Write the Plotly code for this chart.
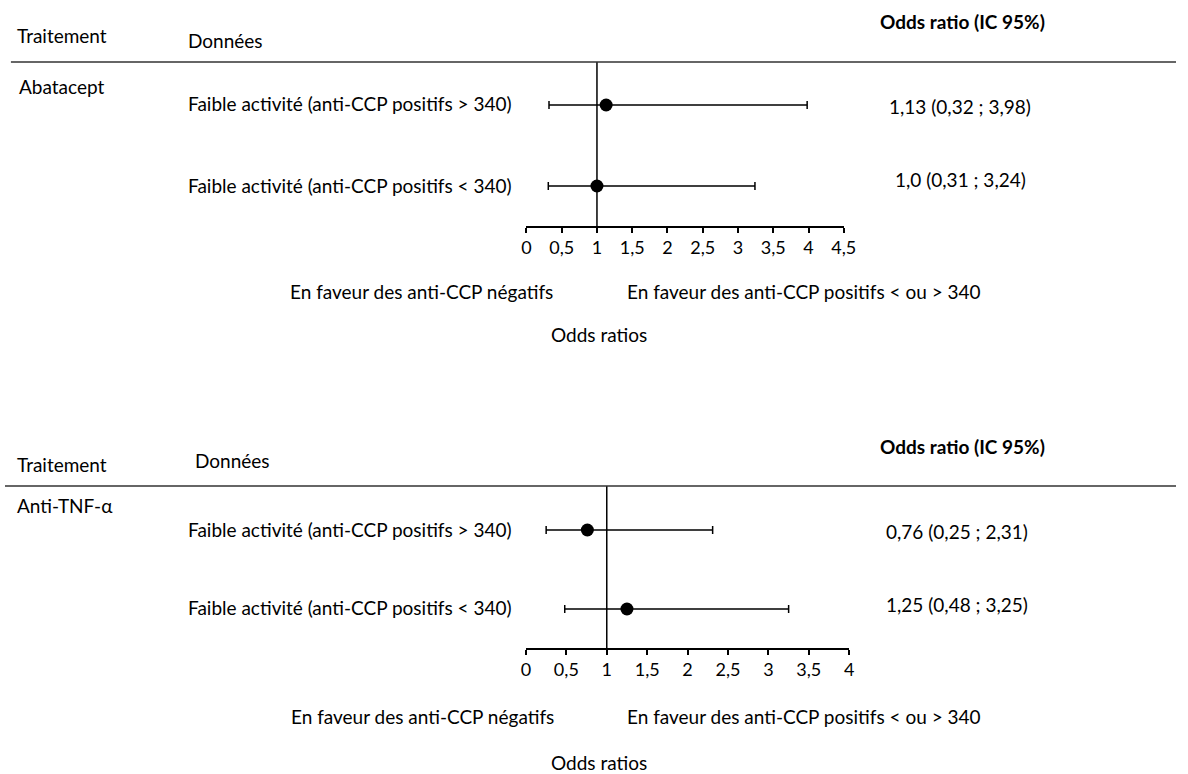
import plotly.graph_objects as go

W, H = 1188, 774

# ---- data ----
row_labels = ["Faible activité (anti-CCP positifs > 340)",
              "Faible activité (anti-CCP positifs < 340)"]
row_pos = [2, 1]

treat_top = "Abatacept"
or_top = [1.13, 1.0]
lo_top = [0.32, 0.31]
hi_top = [3.98, 3.24]
txt_top = ["1,13 (0,32 ; 3,98)", "1,0 (0,31 ; 3,24)"]
ticks_top = [0, 0.5, 1, 1.5, 2, 2.5, 3, 3.5, 4, 4.5]

treat_bot = "Anti-TNF-α"
or_bot = [0.76, 1.25]
lo_bot = [0.25, 0.48]
hi_bot = [2.31, 3.25]
txt_bot = ["0,76 (0,25 ; 2,31)", "1,25 (0,48 ; 3,25)"]
ticks_bot = [0, 0.5, 1, 1.5, 2, 2.5, 3, 3.5, 4]

FONT = "Lato"
FS = 19

def px(x):
    return x / W

def py(y):
    return 1 - y / H

fig = go.Figure()

for (orv, lo, hi, xa, ya) in [(or_top, lo_top, hi_top, "x", "y"),
                              (or_bot, lo_bot, hi_bot, "x2", "y2")]:
    fig.add_trace(go.Scatter(
        x=orv, y=row_pos, mode="markers",
        marker=dict(color="black", size=13),
        error_x=dict(type="data", symmetric=False,
                     array=[h - o for h, o in zip(hi, orv)],
                     arrayminus=[o - l for o, l in zip(orv, lo)],
                     color="black", thickness=1.5, width=4),
        xaxis=xa, yaxis=ya, showlegend=False, hoverinfo="skip"))

axis_common = dict(showgrid=False, zeroline=False, showline=True, linecolor="black",
                   linewidth=1.5, ticks="outside", ticklen=5, tickcolor="black",
                   tickwidth=1.5, tickfont=dict(family=FONT, size=18, color="black"),
                   fixedrange=True)

fig.update_layout(
    width=W, height=H, margin=dict(l=0, r=0, t=0, b=0),
    paper_bgcolor="white", plot_bgcolor="white",
    separators=", ",
    font=dict(family=FONT, size=FS, color="black"),
    xaxis=dict(domain=[px(529), px(851)], range=[0, 4.5], tickvals=ticks_top,
               anchor="y", **axis_common),
    yaxis=dict(domain=[py(226), py(62)], range=[0.506, 2.531], visible=False,
               fixedrange=True),
    xaxis2=dict(domain=[px(528.5), px(856.5)], range=[0, 4], tickvals=ticks_bot,
                anchor="y2", **axis_common),
    yaxis2=dict(domain=[py(648), py(486)], range=[0.506, 2.557], visible=False,
                fixedrange=True),
)

shapes = []
# reference lines at OR = 1
shapes.append(dict(type="line", xref="x", yref="y domain", x0=1, x1=1, y0=0, y1=1,
                   line=dict(color="black", width=1.5)))
shapes.append(dict(type="line", xref="x2", yref="y2 domain", x0=1, x1=1, y0=0, y1=1,
                   line=dict(color="black", width=1.5)))
# header separators
for yy, x0 in [(62, 6), (486, 0)]:
    shapes.append(dict(type="line", xref="paper", yref="paper", x0=px(x0), x1=1,
                       y0=py(yy), y1=py(yy), line=dict(color="#333333", width=1.5)))
fig.update_layout(shapes=shapes)

ann = []

def text(x, y, s, anchor="left", bold=False, size=FS):
    ann.append(dict(x=px(x), y=py(y), xref="paper", yref="paper", text=("<b>%s</b>" % s) if bold else s,
                    showarrow=False, xanchor=anchor, yanchor="middle",
                    font=dict(family=FONT, size=size, color="black")))

# top panel
text(886, 22, "Odds ratio (IC 95%)", bold=True)
text(10, 36, "Traitement")
text(184, 40, "Données")
text(12, 87, treat_top)
for lab, yy in zip(row_labels, [104, 185]):
    text(184, yy, lab)
for t, yy in zip(txt_top, [107, 180]):
    text(969, yy, t, anchor="center")
text(423, 292, "En faveur des anti-CCP négatifs", anchor="center")
text(629, 292, "En faveur des anti-CCP positifs < ou > 340")
text(603, 334, "Odds ratios", anchor="center")

# bottom panel
text(886, 446, "Odds ratio (IC 95%)", bold=True)
text(10, 465, "Traitement")
text(191, 460, "Données")
text(10, 505, treat_bot)
for lab, yy in zip(row_labels, [529, 607]):
    text(184, yy, lab)
for t, yy in zip(txt_bot, [531, 604]):
    text(966, yy, t, anchor="center")
text(424, 716, "En faveur des anti-CCP négatifs", anchor="center")
text(629, 716, "En faveur des anti-CCP positifs < ou > 340")
text(603, 762, "Odds ratios", anchor="center")

fig.update_layout(annotations=ann)

fig.write_html("out.html", config=dict(displayModeBar=False),
               post_script="document.body.style.margin='0';document.body.style.overflow='hidden';")
